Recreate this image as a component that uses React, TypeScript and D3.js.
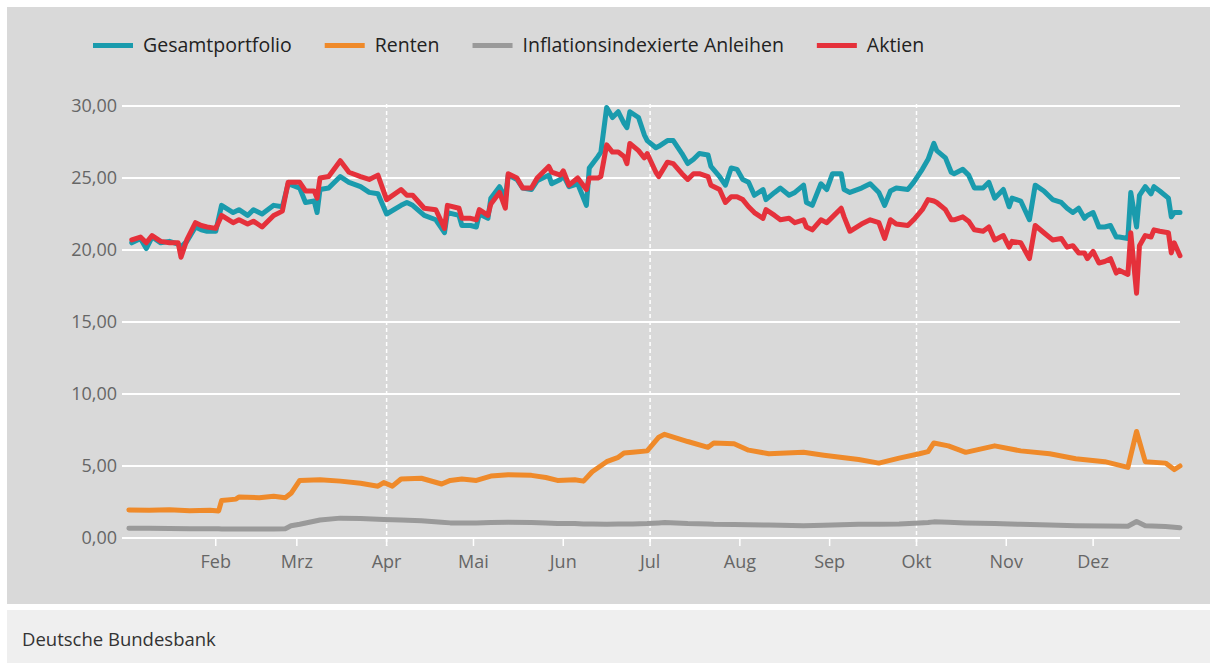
import { useEffect, useRef } from 'react'
import * as d3 from 'd3'

const YEAR = 2023

// day offsets from 1 Jan for the two equity-driven series
const dayIndex = [
  2, 5, 7, 9, 12, 15, 18, 19, 21, 24,
  26, 28, 31, 33, 37, 39, 42, 44, 47, 51,
  54, 56, 60, 62, 65, 66, 67, 70, 74, 77,
  81, 84, 87, 90, 95, 97, 99, 103, 107, 110,
  111, 115, 116, 119, 121, 122, 125, 126, 129, 131,
  132, 135, 137, 140, 142, 146, 147, 150, 151, 153,
  156, 159, 160, 163, 164, 166, 168, 170, 172, 173,
  174, 177, 179, 180, 183, 184, 187, 189, 192, 194,
  196, 198, 201, 202, 205, 207, 209, 211, 213, 215,
  217, 220, 221, 224, 226, 229, 231, 234, 235, 237,
  240, 242, 244, 247, 248, 250, 254, 257, 260, 262,
  264, 266, 270, 272, 275, 277, 279, 280, 283, 285,
  286, 289, 291, 293, 296, 298, 300, 303, 305, 306,
  309, 312, 314, 317, 320, 323, 325, 327, 329, 331,
  332, 334, 336, 338, 340, 342, 343, 346, 347, 349,
  350, 352, 354, 355, 357, 360, 361, 362, 364,
]

const gesamtportfolio = [
  20.5, 20.8, 20.1, 20.9, 20.5, 20.6, 20.4, 20.2, 20.6, 21.6,
  21.4, 21.3, 21.3, 23.1, 22.6, 22.8, 22.4, 22.8, 22.5, 23.1,
  23.0, 24.6, 24.3, 23.3, 23.4, 22.6, 24.2, 24.3, 25.1, 24.7,
  24.4, 24.0, 23.9, 22.5, 23.1, 23.3, 23.1, 22.4, 22.1, 21.2,
  22.6, 22.4, 21.7, 21.7, 21.6, 22.5, 22.2, 23.6, 24.4, 23.6,
  25.2, 24.9, 24.3, 24.2, 24.8, 25.2, 24.6, 24.9, 25.2, 24.4,
  24.6, 23.1, 25.7, 26.5, 26.8, 29.9, 29.2, 29.6, 28.8, 28.5,
  29.6, 29.2, 28.0, 27.6, 27.1, 27.2, 27.6, 27.6, 26.7, 26.0,
  26.3, 26.7, 26.6, 25.8, 25.1, 24.5, 25.7, 25.6, 24.9, 24.7,
  23.8, 24.2, 23.5, 24.0, 24.3, 23.8, 24.0, 24.5, 23.3, 23.1,
  24.6, 24.2, 25.3, 25.3, 24.2, 24.0, 24.3, 24.6, 24.0, 23.1,
  24.1, 24.3, 24.2, 24.7, 25.6, 26.3, 27.4, 26.9, 26.4, 25.4,
  25.3, 25.6, 25.2, 24.3, 24.3, 24.7, 23.6, 24.2, 23.0, 23.6,
  23.4, 22.1, 24.5, 24.1, 23.5, 23.3, 22.9, 22.6, 22.9, 22.2,
  22.4, 22.6, 21.6, 21.6, 21.7, 20.9, 20.9, 20.8, 24.0, 21.6,
  23.8, 24.4, 23.9, 24.4, 24.1, 23.6, 22.3, 22.6, 22.6,
]

const aktien = [
  20.7, 20.9, 20.5, 21.0, 20.6, 20.5, 20.5, 19.5, 20.7, 21.9,
  21.7, 21.6, 21.5, 22.4, 21.9, 22.1, 21.8, 22.0, 21.6, 22.4,
  22.7, 24.7, 24.7, 24.1, 24.1, 23.6, 25.0, 25.1, 26.2, 25.4,
  25.1, 24.9, 25.2, 23.5, 24.2, 23.8, 23.8, 22.9, 22.8, 21.5,
  23.1, 22.9, 22.2, 22.2, 22.1, 22.8, 22.4, 23.2, 24.0, 22.9,
  25.3, 25.0, 24.3, 24.3, 25.0, 25.8, 25.4, 25.2, 25.5, 24.5,
  25.0, 24.2, 25.0, 25.0, 25.1, 27.3, 26.8, 26.8, 26.5, 26.0,
  27.4, 26.9, 26.4, 26.7, 25.4, 25.1, 26.1, 26.0, 25.3, 24.9,
  25.3, 25.3, 25.1, 24.5, 24.2, 23.3, 23.7, 23.7, 23.5, 23.0,
  22.6, 22.2, 22.8, 22.4, 22.1, 22.2, 21.9, 22.1, 21.6, 21.4,
  22.1, 21.9, 22.3, 22.9, 22.3, 21.3, 21.8, 22.1, 21.9, 20.8,
  22.1, 21.8, 21.7, 22.1, 22.8, 23.5, 23.4, 23.3, 22.8, 22.1,
  22.1, 22.3, 22.0, 21.4, 21.3, 21.6, 20.7, 21.0, 20.2, 20.6,
  20.5, 19.4, 21.7, 21.2, 20.7, 20.8, 20.2, 20.3, 19.8, 19.8,
  19.4, 19.9, 19.1, 19.2, 19.4, 18.4, 18.6, 18.3, 21.2, 17.0,
  20.3, 21.0, 20.9, 21.4, 21.3, 21.2, 19.8, 20.5, 19.6,
]

// day offsets for the two bond series
const bondDayIndex = [
  1, 8, 15, 22, 29, 32, 33, 38, 39, 46,
  51, 55, 57, 60, 67, 74, 81, 87, 89, 92,
  95, 102, 109, 112, 116, 121, 126, 132, 140, 145,
  149, 155, 158, 161, 166, 170, 172, 175, 180, 184,
  186, 194, 201, 203, 210, 215, 222, 234, 241, 253,
  260, 267, 274, 277, 279, 284, 290, 300, 309, 319,
  328, 338, 346, 349, 352, 359, 362, 364,
]

const renten = [
  1.95, 1.92, 1.97, 1.9, 1.93, 1.88, 2.6, 2.7, 2.85, 2.8,
  2.9, 2.8, 3.1, 4.0, 4.05, 3.95, 3.8, 3.6, 3.85, 3.6,
  4.1, 4.15, 3.75, 4.0, 4.1, 4.0, 4.3, 4.4, 4.35, 4.2,
  4.0, 4.05, 3.95, 4.6, 5.3, 5.6, 5.9, 5.95, 6.05, 7.0,
  7.2, 6.7, 6.3, 6.6, 6.55, 6.1, 5.85, 5.95, 5.75, 5.45,
  5.2, 5.55, 5.85, 6.0, 6.6, 6.4, 5.95, 6.4, 6.05, 5.85,
  5.5, 5.3, 4.9, 7.4, 5.3, 5.2, 4.75, 5.0,
]

const inflationsindexiert = [
  0.68, 0.67, 0.66, 0.65, 0.64, 0.64, 0.63, 0.63, 0.62, 0.62,
  0.62, 0.65, 0.85, 0.95, 1.25, 1.38, 1.35, 1.3, 1.28, 1.26,
  1.25, 1.2, 1.1, 1.05, 1.05, 1.05, 1.08, 1.1, 1.08, 1.05,
  1.0, 1.0, 0.98, 0.97, 0.96, 0.97, 0.98, 0.98, 1.0, 1.05,
  1.08, 1.0, 0.97, 0.95, 0.93, 0.92, 0.9, 0.85, 0.88, 0.95,
  0.95, 0.97, 1.05, 1.08, 1.12, 1.1, 1.05, 1.0, 0.95, 0.9,
  0.85, 0.83, 0.82, 1.15, 0.85, 0.8, 0.75, 0.72,
]

const yTicks = [0, 5, 10, 15, 20, 25, 30]
const monthLabels = ['Feb', 'Mrz', 'Apr', 'Mai', 'Jun', 'Jul', 'Aug', 'Sep', 'Okt', 'Nov', 'Dez']
const quarterMonths = [3, 6, 9]

const legendNames = ['Gesamtportfolio', 'Renten', 'Inflationsindexierte Anleihen', 'Aktien']
const legendColors = ['#1a9bad', '#ef8a2a', '#9a9a9a', '#e5313b']

const FONT = "'Open Sans', 'Noto Sans', sans-serif"

const App = () => {
  const svgRef = useRef(null)

  useEffect(() => {
    if (!svgRef.current) return
    const W = 1212
    const H = 663
    const svg = d3.select(svgRef.current)
    svg.selectAll('*').remove()
    svg.attr('width', W).attr('height', H)

    const toDate = (d) => new Date(YEAR, 0, 1 + d)

    // panels
    svg.append('rect').attr('x', 0).attr('y', 0).attr('width', W).attr('height', H).attr('fill', '#ffffff')
    svg.append('rect').attr('x', 7).attr('y', 7).attr('width', 1203).attr('height', 597).attr('fill', '#d9d9d9')
    svg.append('rect').attr('x', 7).attr('y', 610).attr('width', 1203).attr('height', 53).attr('fill', '#efefef')
    svg.append('text')
      .attr('x', 22).attr('y', 646)
      .style('font-family', FONT).style('font-size', '18.5px').style('fill', '#333')
      .text('Deutsche Bundesbank')

    const x = d3.scaleTime()
      .domain([new Date(YEAR, 0, 1), new Date(YEAR, 11, 31)])
      .range([126, 1180])
    const y = d3.scaleLinear().domain([0, 30]).range([538, 106])

    const fmt = d3.formatLocale({ decimal: ',', thousands: '.', grouping: [3], currency: ['', '€'] }).format('.2f')

    // horizontal grid
    svg.append('g').selectAll('line').data(yTicks).enter().append('line')
      .attr('x1', 122).attr('x2', 1180)
      .attr('y1', (d) => y(d)).attr('y2', (d) => y(d))
      .attr('stroke', '#ffffff').attr('stroke-width', 2)

    svg.append('g').selectAll('text').data(yTicks).enter().append('text')
      .attr('x', 117).attr('y', (d) => y(d)).attr('dy', '0.35em')
      .attr('text-anchor', 'end')
      .style('font-family', FONT).style('font-size', '18px').style('fill', '#666')
      .text((d) => fmt(d))

    // month ticks and labels
    const months = monthLabels.map((m, i) => ({ label: m, date: new Date(YEAR, i + 1, 1) }))
    svg.append('g').selectAll('line').data(months).enter().append('line')
      .attr('x1', (d) => x(d.date)).attr('x2', (d) => x(d.date))
      .attr('y1', 538).attr('y2', 546)
      .attr('stroke', '#ffffff').attr('stroke-width', 1.5)
    svg.append('g').selectAll('text').data(months).enter().append('text')
      .attr('x', (d) => x(d.date)).attr('y', 568)
      .attr('text-anchor', 'middle')
      .style('font-family', FONT).style('font-size', '18px').style('fill', '#666')
      .text((d) => d.label)

    // quarter dashed lines
    svg.append('g').selectAll('line').data(quarterMonths).enter().append('line')
      .attr('x1', (d) => x(new Date(YEAR, d, 1))).attr('x2', (d) => x(new Date(YEAR, d, 1)))
      .attr('y1', 104).attr('y2', 546)
      .attr('stroke', '#ffffff').attr('stroke-width', 1.5)
      .attr('stroke-dasharray', '4,3')

    const line = d3.line()
      .x((d) => x(d.date))
      .y((d) => y(d.value))

    const seriesData = [
      { color: legendColors[2], points: bondDayIndex.map((d, i) => ({ date: toDate(d), value: inflationsindexiert[i] })) },
      { color: legendColors[1], points: bondDayIndex.map((d, i) => ({ date: toDate(d), value: renten[i] })) },
      { color: legendColors[0], points: dayIndex.map((d, i) => ({ date: toDate(d), value: gesamtportfolio[i] })) },
      { color: legendColors[3], points: dayIndex.map((d, i) => ({ date: toDate(d), value: aktien[i] })) },
    ]

    seriesData.forEach((s) => {
      svg.append('path')
        .datum(s.points)
        .attr('d', line)
        .attr('fill', 'none')
        .attr('stroke', s.color)
        .attr('stroke-width', 5)
        .attr('stroke-linejoin', 'round')
        .attr('stroke-linecap', 'round')
    })

    // legend
    let lx = 93
    legendNames.forEach((name, i) => {
      svg.append('rect')
        .attr('x', lx).attr('y', 43).attr('width', 40).attr('height', 5)
        .attr('fill', legendColors[i])
      const t = svg.append('text')
        .attr('x', lx + 50).attr('y', 45).attr('dy', '0.35em')
        .style('font-family', FONT).style('font-size', '19.5px').style('fill', '#222')
        .text(name)
      const w = t.node().getComputedTextLength()
      lx += 50 + w + 33
    })
  }, [])

  return (
    <div style={{ position: 'absolute', left: 0, top: 0 }}>
      <svg ref={svgRef}></svg>
    </div>
  )
}

export default App
